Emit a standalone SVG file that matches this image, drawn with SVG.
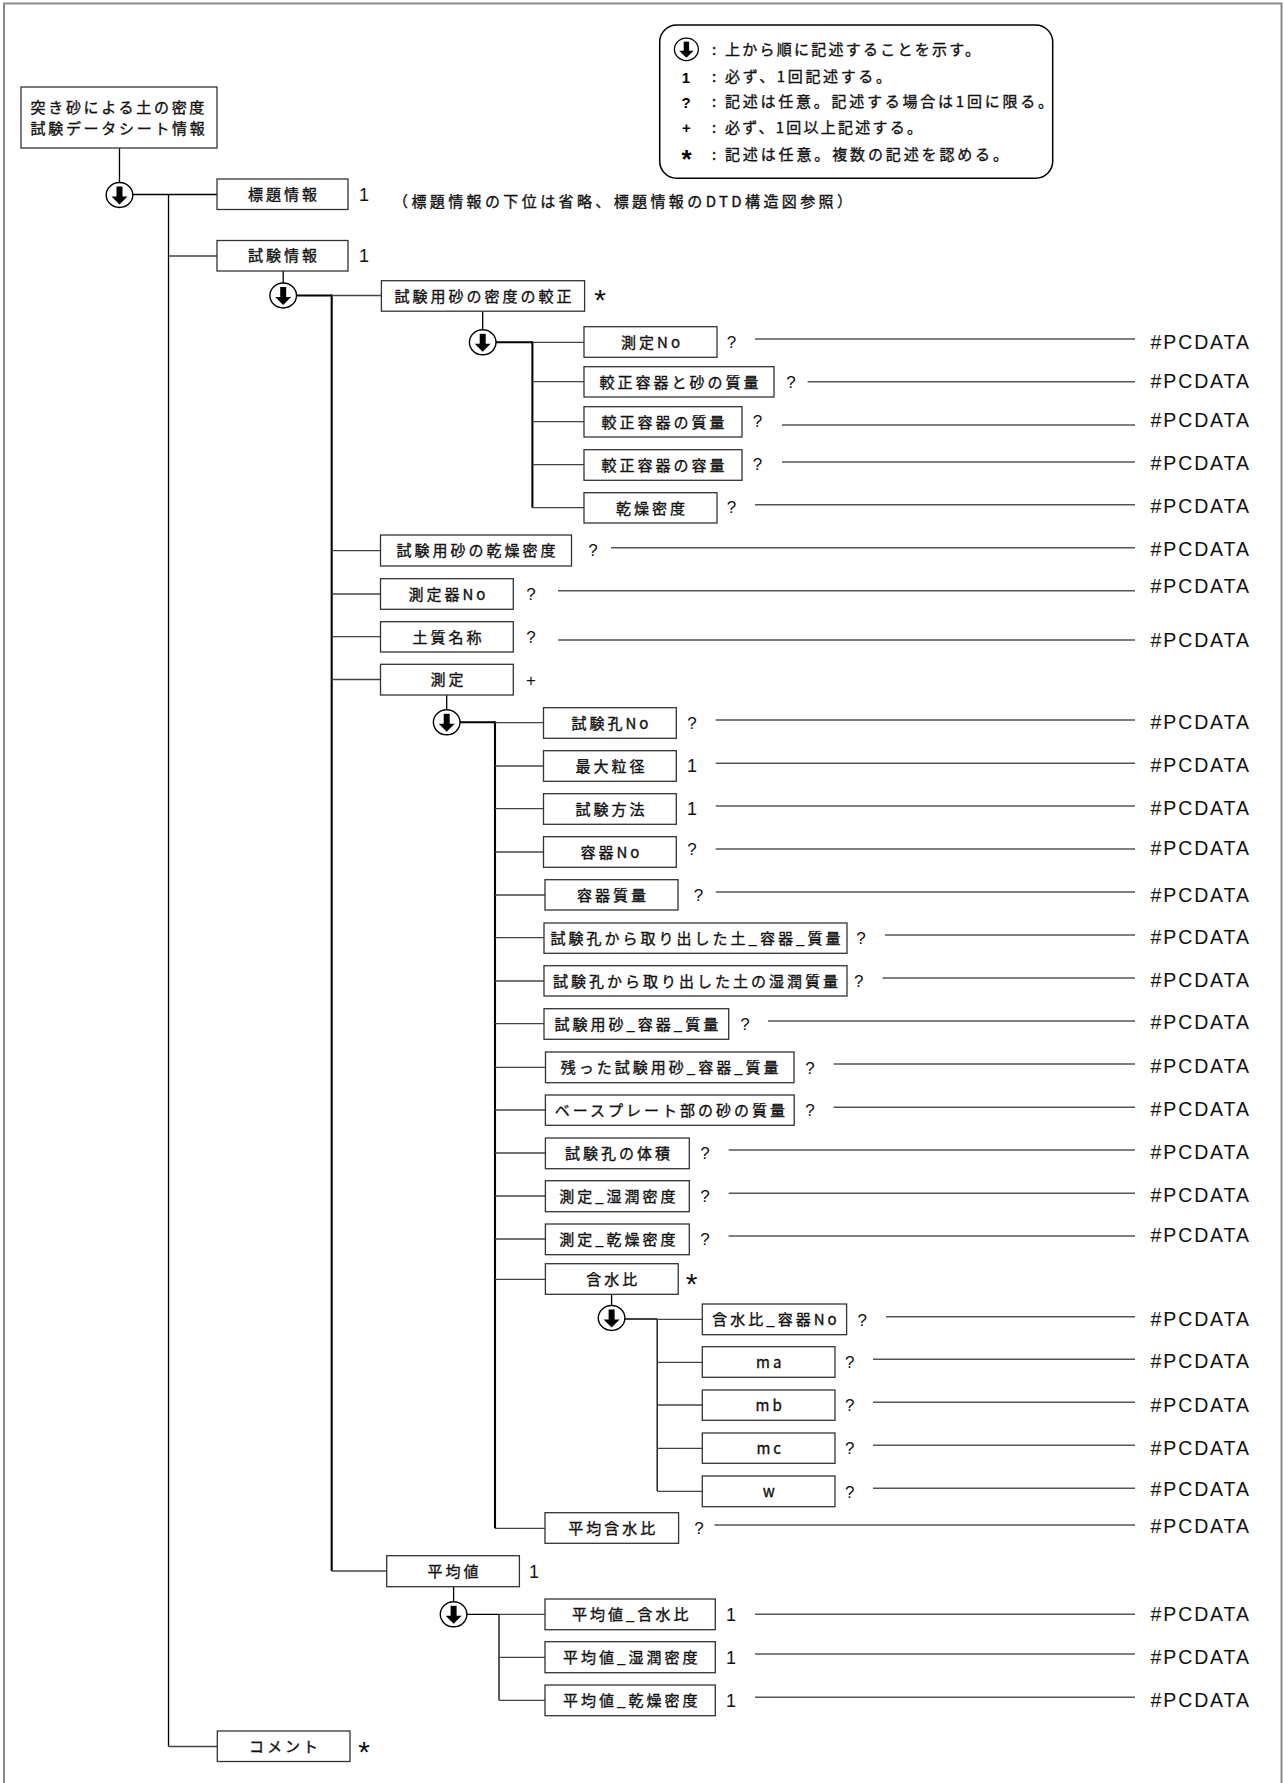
<svg xmlns="http://www.w3.org/2000/svg" xmlns:xlink="http://www.w3.org/1999/xlink" width="1284" height="1783" viewBox="0 0 1284 1783">
<style>
.box{fill:#fff;stroke:#333;stroke-width:1.3}
.lbl{font-family:"Noto Sans CJK JP","Noto Sans CJK SC",sans-serif;font-size:15px;letter-spacing:3px;text-anchor:middle;fill:#111;stroke:#111;stroke-width:0.35}
.txt{font-family:"Noto Sans CJK JP","Noto Sans CJK SC",sans-serif;font-size:15px;fill:#111;stroke:#111;stroke-width:0.35}
.leg{font-family:"Noto Sans CJK JP","Noto Sans CJK SC",sans-serif;font-size:15px;fill:#111;stroke:#111;stroke-width:0.35}
.card{font-family:"Liberation Sans",Arial,sans-serif;font-size:17px;text-anchor:middle;fill:#111}
.one{font-family:"Liberation Sans",Arial,sans-serif;font-size:18px;text-anchor:middle;fill:#111}
.ast{font-family:"Liberation Sans",Arial,sans-serif;font-size:30px;text-anchor:middle;fill:#111}
.pc{font-family:"Liberation Sans",Arial,sans-serif;font-size:19.5px;letter-spacing:1.9px;fill:#111}
.lsym{font-family:"Liberation Sans",Arial,sans-serif;font-weight:bold;text-anchor:middle;fill:#000}
.br{stroke:#444;stroke-width:1.3;fill:none}
.tk{stroke:#000;stroke-width:2.1;fill:none}
.tn{stroke:#000;stroke-width:1.3;fill:none}
.dl{stroke:#555;stroke-width:1.4;fill:none}
</style>
<defs>
<g id="seq"><ellipse cx="0" cy="0" rx="13.3" ry="12.5" fill="#fff" stroke="#000" stroke-width="1.4"/><rect x="-3" y="-8.5" width="6" height="10.5" fill="#000"/><polygon points="-8,1.5 8,1.5 0,9.5" fill="#000"/></g>
</defs>
<rect x="4" y="3.5" width="1277.5" height="1800" fill="none" stroke="#888" stroke-width="2"/>

<g id="legend">
<rect x="659.7" y="25" width="393" height="153.3" rx="17" ry="17" fill="#fff" stroke="#000" stroke-width="1.5"/>
<use xlink:href="#seq" transform="translate(686.4,49.3) scale(0.9)"/>
<text class="lsym" x="686" y="82.5" font-size="15">1</text>
<text class="lsym" x="686" y="107.5" font-size="15">?</text>
<text class="lsym" x="686.5" y="132.5" font-size="15">+</text>
<text class="lsym" x="686.5" y="168" font-size="26">*</text>
<g class="leg">
<text x="714" y="54.8" text-anchor="middle">:</text>
<text x="714" y="82.2" text-anchor="middle">:</text>
<text x="714" y="107.2" text-anchor="middle">:</text>
<text x="714" y="132.8" text-anchor="middle">:</text>
<text x="714" y="159.5" text-anchor="middle">:</text>
<text x="725" y="54.8" textLength="255" lengthAdjust="spacing">上から順に記述することを示す。</text>
<text x="725" y="82.2" textLength="166" lengthAdjust="spacing">必ず、1回記述する。</text>
<text x="725" y="107.2" textLength="328" lengthAdjust="spacing">記述は任意。記述する場合は1回に限る。</text>
<text x="725" y="132.8" textLength="197" lengthAdjust="spacing">必ず、1回以上記述する。</text>
<text x="725" y="159.5" textLength="283" lengthAdjust="spacing">記述は任意。複数の記述を認める。</text>
</g>
</g>

<g id="connectors">
<line class="tn" x1="119.5" y1="148" x2="119.5" y2="183"/>
<line class="tn" x1="132" y1="194.5" x2="217" y2="194.5"/>
<line class="tn" x1="168.5" y1="194.5" x2="168.5" y2="1746.5"/>
<line class="br" x1="168.5" y1="256" x2="217" y2="256"/>
<line class="br" x1="168.5" y1="1746.5" x2="217.3" y2="1746.5"/>
<line class="tn" x1="283.2" y1="271" x2="283.2" y2="283"/>
<line class="tk" x1="296" y1="295.5" x2="331.7" y2="295.5"/>
<line class="tk" x1="331.7" y1="294.5" x2="331.7" y2="1571"/>
<line class="br" x1="331.7" y1="295.5" x2="381.4" y2="295.5"/>
<line class="br" x1="331.7" y1="550.7" x2="380.5" y2="550.7"/>
<line class="br" x1="331.7" y1="594" x2="380.5" y2="594"/>
<line class="br" x1="331.7" y1="636.7" x2="380.5" y2="636.7"/>
<line class="br" x1="331.7" y1="679.5" x2="380.5" y2="679.5"/>
<line class="br" x1="331.7" y1="1571" x2="386.7" y2="1571"/>
<line class="tn" x1="482.7" y1="311" x2="482.7" y2="330"/>
<line class="tk" x1="495.5" y1="342.3" x2="532.4" y2="342.3"/>
<line class="tk" x1="532.4" y1="341.3" x2="532.4" y2="507.7"/>
<line class="br" x1="532.4" y1="342.3" x2="584" y2="342.3"/>
<line class="br" x1="532.4" y1="381.7" x2="584" y2="381.7"/>
<line class="br" x1="532.4" y1="421.7" x2="584" y2="421.7"/>
<line class="br" x1="532.4" y1="464.7" x2="584" y2="464.7"/>
<line class="br" x1="532.4" y1="507.7" x2="584" y2="507.7"/>
<line class="tn" x1="446.7" y1="695" x2="446.7" y2="710"/>
<line class="tk" x1="459.5" y1="722.3" x2="495" y2="722.3"/>
<line class="tk" x1="495" y1="721.3" x2="495" y2="1528.3"/>
<line class="br" x1="495" y1="722.7" x2="543.5" y2="722.7"/>
<line class="br" x1="495" y1="766" x2="543.5" y2="766"/>
<line class="br" x1="495" y1="808.7" x2="543.5" y2="808.7"/>
<line class="br" x1="495" y1="852" x2="543.5" y2="852"/>
<line class="br" x1="495" y1="895" x2="545" y2="895"/>
<line class="br" x1="495" y1="937.7" x2="544" y2="937.7"/>
<line class="br" x1="495" y1="981" x2="544" y2="981"/>
<line class="br" x1="495" y1="1023.7" x2="544" y2="1023.7"/>
<line class="br" x1="495" y1="1067.3" x2="545.5" y2="1067.3"/>
<line class="br" x1="495" y1="1110" x2="545.4" y2="1110"/>
<line class="br" x1="495" y1="1153" x2="545.4" y2="1153"/>
<line class="br" x1="495" y1="1196" x2="545.4" y2="1196"/>
<line class="br" x1="495" y1="1239" x2="545.4" y2="1239"/>
<line class="br" x1="495" y1="1279.3" x2="545.4" y2="1279.3"/>
<line class="br" x1="495" y1="1528.3" x2="545" y2="1528.3"/>
<line class="tn" x1="611.6" y1="1294.3" x2="611.6" y2="1306"/>
<line class="tn" x1="624.5" y1="1319" x2="657.2" y2="1319"/>
<line class="tn" x1="657.2" y1="1319" x2="657.2" y2="1491.3"/>
<line class="br" x1="657.2" y1="1319.3" x2="702.3" y2="1319.3"/>
<line class="br" x1="657.2" y1="1362.3" x2="702.3" y2="1362.3"/>
<line class="br" x1="657.2" y1="1405" x2="702.3" y2="1405"/>
<line class="br" x1="657.2" y1="1448.3" x2="702.3" y2="1448.3"/>
<line class="br" x1="657.2" y1="1491.3" x2="702.3" y2="1491.3"/>
<line class="tn" x1="453.6" y1="1586.7" x2="453.6" y2="1602"/>
<line class="tn" x1="466.5" y1="1614.3" x2="499" y2="1614.3"/>
<line class="tn" x1="499" y1="1614.3" x2="499" y2="1700.3"/>
<line class="br" x1="499" y1="1614.3" x2="545" y2="1614.3"/>
<line class="br" x1="499" y1="1657.3" x2="545" y2="1657.3"/>
<line class="br" x1="499" y1="1700.3" x2="545" y2="1700.3"/>
<g class="dl">
<line x1="755" y1="339" x2="1135" y2="339"/>
<line x1="807.6" y1="381.7" x2="1135" y2="381.7"/>
<line x1="782" y1="425" x2="1135" y2="425"/>
<line x1="782" y1="462" x2="1135" y2="462"/>
<line x1="755" y1="504.7" x2="1135" y2="504.7"/>
<line x1="611" y1="547.7" x2="1135" y2="547.7"/>
<line x1="558" y1="590.7" x2="1135" y2="590.7"/>
<line x1="558" y1="640" x2="1135" y2="640"/>
<line x1="715.7" y1="720" x2="1135" y2="720"/>
<line x1="715.7" y1="763.3" x2="1135" y2="763.3"/>
<line x1="715.7" y1="806" x2="1135" y2="806"/>
<line x1="715.7" y1="849" x2="1135" y2="849"/>
<line x1="715.7" y1="892" x2="1135" y2="892"/>
<line x1="885" y1="935" x2="1135" y2="935"/>
<line x1="882.5" y1="978" x2="1135" y2="978"/>
<line x1="768" y1="1021" x2="1135" y2="1021"/>
<line x1="833.6" y1="1064" x2="1135" y2="1064"/>
<line x1="833.6" y1="1107.3" x2="1135" y2="1107.3"/>
<line x1="728.7" y1="1150" x2="1135" y2="1150"/>
<line x1="728.7" y1="1193.3" x2="1135" y2="1193.3"/>
<line x1="728.7" y1="1236" x2="1135" y2="1236"/>
<line x1="886" y1="1316.7" x2="1135" y2="1316.7"/>
<line x1="873" y1="1359.3" x2="1135" y2="1359.3"/>
<line x1="873" y1="1402.3" x2="1135" y2="1402.3"/>
<line x1="873" y1="1445.3" x2="1135" y2="1445.3"/>
<line x1="873" y1="1488.3" x2="1135" y2="1488.3"/>
<line x1="714.5" y1="1525" x2="1135" y2="1525"/>
<line x1="755" y1="1614.3" x2="1135" y2="1614.3"/>
<line x1="755" y1="1654" x2="1135" y2="1654"/>
<line x1="755" y1="1697.3" x2="1135" y2="1697.3"/>
</g>
</g>

<g id="sequence-markers">
<use xlink:href="#seq" x="119.5" y="195"/>
<use xlink:href="#seq" x="283.2" y="295.5"/>
<use xlink:href="#seq" x="482.7" y="342.3"/>
<use xlink:href="#seq" x="446.7" y="722.3"/>
<use xlink:href="#seq" x="611.6" y="1318"/>
<use xlink:href="#seq" x="453.6" y="1614.3"/>
</g>

<g id="n-root"><rect class="box" x="21" y="87" width="196" height="61"/>
<text class="txt" x="30.5" y="112.7" letter-spacing="2.7">突き砂による土の密度</text>
<text class="txt" x="30.5" y="133.7" letter-spacing="2.7">試験データシート情報</text></g>

<g id="n-hyodai"><rect class="box" x="217" y="179" width="131" height="30.5"/><text class="lbl" x="284" y="200">標題情報</text><text class="one" x="364" y="200.7">1</text>
<text class="txt" x="393" y="207.4" textLength="459" lengthAdjust="spacing">（標題情報の下位は省略、標題情報のDTD構造図参照）</text></g>

<g id="n-shiken"><rect class="box" x="217" y="240.5" width="131" height="30.5"/><text class="lbl" x="284" y="261.4">試験情報</text><text class="one" x="364" y="262">1</text></g>

<g id="n-comment"><rect class="box" x="217.3" y="1731" width="132.7" height="30.5"/><text class="lbl" x="285" y="1752">コメント</text><text class="ast" x="364" y="1761.5">*</text></g>

<g id="n-kosei"><rect class="box" x="381.4" y="280.7" width="203.2" height="30.5"/><text class="lbl" x="484.5" y="301.7">試験用砂の密度の較正</text><text class="ast" x="600" y="310">*</text></g>

<g id="n-k-no"><rect class="box" x="584" y="326.7" width="133" height="30.6"/><text class="lbl" x="652" y="347.7">測定No</text><text class="card" x="731.5" y="348.2">?</text><text class="pc" x="1150.5" y="348.8">#PCDATA</text></g>
<g id="n-k-1"><rect class="box" x="584" y="366.7" width="190" height="30.3"/><text class="lbl" x="680.5" y="387.5">較正容器と砂の質量</text><text class="card" x="791" y="388">?</text><text class="pc" x="1150.5" y="388.2">#PCDATA</text></g>
<g id="n-k-2"><rect class="box" x="584" y="406.7" width="158" height="30.3"/><text class="lbl" x="664.5" y="427.5">較正容器の質量</text><text class="card" x="757.5" y="427.2">?</text><text class="pc" x="1150.5" y="427.2">#PCDATA</text></g>
<g id="n-k-3"><rect class="box" x="584" y="449.7" width="158" height="30.6"/><text class="lbl" x="664.5" y="470.7">較正容器の容量</text><text class="card" x="757.5" y="470">?</text><text class="pc" x="1150.5" y="469.8">#PCDATA</text></g>
<g id="n-k-4"><rect class="box" x="584" y="492.7" width="133" height="30.3"/><text class="lbl" x="652" y="513.5">乾燥密度</text><text class="card" x="731.5" y="513.2">?</text><text class="pc" x="1150.5" y="513.2">#PCDATA</text></g>

<g id="n-kansou"><rect class="box" x="380.5" y="535" width="191" height="31"/><text class="lbl" x="477.5" y="556.2">試験用砂の乾燥密度</text><text class="card" x="593" y="556.2">?</text><text class="pc" x="1150.5" y="555.8">#PCDATA</text></g>
<g id="n-sokuteiki"><rect class="box" x="380.5" y="578.7" width="132.8" height="30.6"/><text class="lbl" x="448.4" y="599.7">測定器No</text><text class="card" x="531" y="600">?</text><text class="pc" x="1150.5" y="593.2">#PCDATA</text></g>
<g id="n-doshitsu"><rect class="box" x="380.5" y="621.7" width="132.8" height="30.3"/><text class="lbl" x="448.4" y="642.5">土質名称</text><text class="card" x="531" y="643">?</text><text class="pc" x="1150.5" y="646.5">#PCDATA</text></g>
<g id="n-sokutei"><rect class="box" x="380.5" y="664.3" width="132.8" height="30.7"/><text class="lbl" x="448.4" y="685.4">測定</text><text class="card" x="531" y="685.5">+</text></g>

<g id="n-s-1"><rect class="box" x="543.5" y="707.7" width="132.8" height="30.6"/><text class="lbl" x="611.4" y="728.7">試験孔No</text><text class="card" x="692" y="729">?</text><text class="pc" x="1150.5" y="728.5">#PCDATA</text></g>
<g id="n-s-2"><rect class="box" x="543.5" y="750.7" width="132.8" height="30.6"/><text class="lbl" x="611.4" y="771.7">最大粒径</text><text class="one" x="692" y="772.4">1</text><text class="pc" x="1150.5" y="772">#PCDATA</text></g>
<g id="n-s-3"><rect class="box" x="543.5" y="793.7" width="132.8" height="30.6"/><text class="lbl" x="611.4" y="814.7">試験方法</text><text class="one" x="692" y="815.4">1</text><text class="pc" x="1150.5" y="815.1">#PCDATA</text></g>
<g id="n-s-4"><rect class="box" x="543.5" y="836.7" width="132.8" height="30.6"/><text class="lbl" x="611.4" y="857.7">容器No</text><text class="card" x="692" y="855.2">?</text><text class="pc" x="1150.5" y="855">#PCDATA</text></g>
<g id="n-s-5"><rect class="box" x="545" y="879.7" width="133" height="30.3"/><text class="lbl" x="613" y="900.5">容器質量</text><text class="card" x="698.5" y="901">?</text><text class="pc" x="1150.5" y="901.5">#PCDATA</text></g>
<g id="n-s-6"><rect class="box" x="544" y="923" width="303" height="30.3"/><text class="lbl" x="697" y="943.9">試験孔から取り出した土_容器_質量</text><text class="card" x="861" y="944">?</text><text class="pc" x="1150.5" y="943.5">#PCDATA</text></g>
<g id="n-s-7"><rect class="box" x="544" y="965.7" width="303" height="30.3"/><text class="lbl" x="697" y="986.5">試験孔から取り出した土の湿潤質量</text><text class="card" x="858.7" y="987">?</text><text class="pc" x="1150.5" y="986.5">#PCDATA</text></g>
<g id="n-s-8"><rect class="box" x="544" y="1008.7" width="184.7" height="30.6"/><text class="lbl" x="637.8" y="1029.7">試験用砂_容器_質量</text><text class="card" x="745" y="1029.5">?</text><text class="pc" x="1150.5" y="1028.5">#PCDATA</text></g>
<g id="n-s-9"><rect class="box" x="545.5" y="1052" width="248.5" height="30.7"/><text class="lbl" x="671.2" y="1073">残った試験用砂_容器_質量</text><text class="card" x="810" y="1073.5">?</text><text class="pc" x="1150.5" y="1073.3">#PCDATA</text></g>
<g id="n-s-10"><rect class="box" x="545.4" y="1095" width="248.8" height="30.3"/><text class="lbl" x="671.3" y="1115.9">ベースプレート部の砂の質量</text><text class="card" x="810" y="1116.2">?</text><text class="pc" x="1150.5" y="1115.5">#PCDATA</text></g>
<g id="n-s-11"><rect class="box" x="545.4" y="1138" width="143.9" height="30.7"/><text class="lbl" x="618.9" y="1159">試験孔の体積</text><text class="card" x="705" y="1159.3">?</text><text class="pc" x="1150.5" y="1158.5">#PCDATA</text></g>
<g id="n-s-12"><rect class="box" x="545.4" y="1180.7" width="143.9" height="31"/><text class="lbl" x="618.9" y="1201.9">測定_湿潤密度</text><text class="card" x="705" y="1202">?</text><text class="pc" x="1150.5" y="1201.5">#PCDATA</text></g>
<g id="n-s-13"><rect class="box" x="545.4" y="1224" width="143.9" height="30.7"/><text class="lbl" x="618.9" y="1245">測定_乾燥密度</text><text class="card" x="705" y="1245">?</text><text class="pc" x="1150.5" y="1241.5">#PCDATA</text></g>
<g id="n-s-14"><rect class="box" x="545.4" y="1263.7" width="132.8" height="30.6"/><text class="lbl" x="613.3" y="1284.7">含水比</text><text class="ast" x="691.6" y="1294.3">*</text></g>

<g id="n-g-1"><rect class="box" x="702.3" y="1304" width="144.3" height="30.7"/><text class="lbl" x="776" y="1325">含水比_容器No</text><text class="card" x="862.3" y="1325.5">?</text><text class="pc" x="1150.5" y="1325.5">#PCDATA</text></g>
<g id="n-g-2"><rect class="box" x="702.3" y="1346.7" width="132.7" height="30.6"/><text class="lbl" x="770.2" y="1367.7">ma</text><text class="card" x="849.7" y="1368">?</text><text class="pc" x="1150.5" y="1367.5">#PCDATA</text></g>
<g id="n-g-3"><rect class="box" x="702.3" y="1390" width="132.7" height="30.3"/><text class="lbl" x="770.2" y="1410.9">mb</text><text class="card" x="849.7" y="1411.4">?</text><text class="pc" x="1150.5" y="1411.5">#PCDATA</text></g>
<g id="n-g-4"><rect class="box" x="702.3" y="1433" width="132.7" height="30.3"/><text class="lbl" x="770.2" y="1453.9">mc</text><text class="card" x="849.7" y="1454.4">?</text><text class="pc" x="1150.5" y="1454.5">#PCDATA</text></g>
<g id="n-g-5"><rect class="box" x="702.3" y="1476" width="132.7" height="30.7"/><text class="lbl" x="770.2" y="1497">w</text><text class="card" x="849.7" y="1497.5">?</text><text class="pc" x="1150.5" y="1495.5">#PCDATA</text></g>

<g id="n-s-15"><rect class="box" x="545" y="1512.7" width="133.6" height="30.6"/><text class="lbl" x="613.3" y="1533.7">平均含水比</text><text class="card" x="699" y="1534">?</text><text class="pc" x="1150.5" y="1532.5">#PCDATA</text></g>

<g id="n-heikin"><rect class="box" x="386.7" y="1555.7" width="132.7" height="31"/><text class="lbl" x="454.5" y="1576.9">平均値</text><text class="one" x="534" y="1577.6">1</text></g>
<g id="n-h-1"><rect class="box" x="545" y="1599" width="170.3" height="30.7"/><text class="lbl" x="631.7" y="1620">平均値_含水比</text><text class="one" x="731" y="1620.7">1</text><text class="pc" x="1150.5" y="1620.5">#PCDATA</text></g>
<g id="n-h-2"><rect class="box" x="545" y="1641.7" width="170.3" height="31"/><text class="lbl" x="631.7" y="1662.9">平均値_湿潤密度</text><text class="one" x="731" y="1663.6">1</text><text class="pc" x="1150.5" y="1663.5">#PCDATA</text></g>
<g id="n-h-3"><rect class="box" x="545" y="1685" width="170.3" height="30.7"/><text class="lbl" x="631.7" y="1706">平均値_乾燥密度</text><text class="one" x="731" y="1706.7">1</text><text class="pc" x="1150.5" y="1706.5">#PCDATA</text></g>
</svg>
